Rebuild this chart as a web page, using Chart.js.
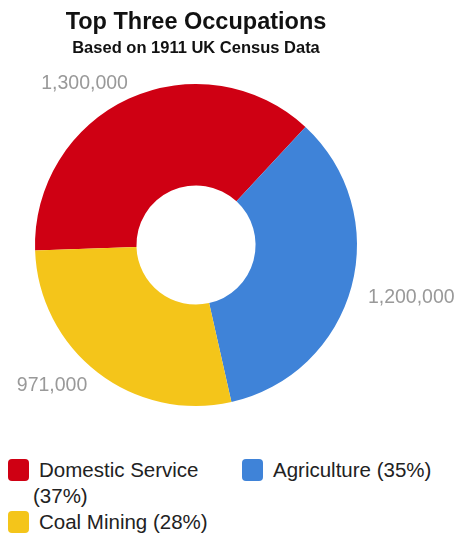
<!DOCTYPE html>
<html>
<head>
<meta charset="utf-8">
<script src="https://cdn.jsdelivr.net/npm/chart.js@4/dist/chart.umd.min.js"></script>
<style>
    body { margin: 0; background: #fff; font-family: "Liberation Sans", Arial, sans-serif; }
    #wrap { position: relative; width: 457px; height: 533px; overflow: hidden; }
    #myChart { position: absolute; left: 0; top: 0; }
    #legend { position: absolute; left: 0; top: 457px; width: 457px; font-size: 20.5px; color: #222; }
    .item { position: absolute; line-height: 26px; }
    .item .box { position: absolute; left: 0; top: 2px; width: 21px; height: 22px; border-radius: 4px; }
</style>
</head>
<body>
<div id="wrap">
    <canvas id="myChart" width="457" height="440"></canvas>
    <div id="legend"></div>
</div>
<script>
// Chart data
var occupations = ["Domestic Service", "Agriculture", "Coal Mining"];
var workers = [1300000, 1200000, 971000];
var colours = ["#cf0013", "#3f83d8", "#f4c51a"];

var total = workers.reduce((a, b) => a + b, 0);

// Draws the value next to each slice, outside the ring
const outsideLabels = {
    id: "outsideLabels",
    afterDatasetsDraw(chart) {
        const ctx = chart.ctx;
        const meta = chart.getDatasetMeta(0);
        ctx.save();
        ctx.font = "19.5px 'Liberation Sans', Arial, sans-serif";
        ctx.fillStyle = "#999999";
        ctx.textBaseline = "middle";
        meta.data.forEach((arc, i) => {
            const p = arc.getProps(["x", "y", "startAngle", "endAngle", "outerRadius"], true);
            const mid = (p.startAngle + p.endAngle) / 2;
            const r = p.outerRadius + 17;
            let x = p.x + Math.cos(mid) * r;
            let y = p.y + Math.sin(mid) * r;
            if (x > p.x) y += 6;
            if (y < p.y) x += 6;
            ctx.textAlign = x < p.x ? "right" : "left";
            ctx.fillText(workers[i].toLocaleString("en-US"), x, y);
        });
        ctx.restore();
    }
};

const config = {
    type: "doughnut",
    data: {
        labels: occupations,
        datasets: [{
            data: workers,
            backgroundColor: colours,
            borderWidth: 0
        }]
    },
    options: {
        responsive: false,
        animation: false,
        cutout: "37%",
        rotation: 268,
        layout: { padding: { left: 35, right: 100, top: 6, bottom: 34 } },
        plugins: {
            legend: { display: false },
            tooltip: { enabled: false },
            title: {
                display: true,
                text: "Top Three Occupations",
                color: "#111",
                font: { family: "'Liberation Sans', Arial, sans-serif", size: 23.5, weight: "bold", lineHeight: 1.2 },
                padding: { top: 2, bottom: 2 }
            },
            subtitle: {
                display: true,
                text: "Based on 1911 UK Census Data",
                color: "#111",
                font: { family: "'Liberation Sans', Arial, sans-serif", size: 16.5, weight: "bold", lineHeight: 1.2 },
                padding: { top: 0, bottom: 26 }
            }
        }
    },
    plugins: [outsideLabels]
};

var myChart = new Chart(document.getElementById("myChart"), config);

// HTML legend (wraps like the original)
const legendPos = [[8, 0, 232], [242, 0, 215], [8, 52, 232]];
const legend = document.getElementById("legend");
occupations.forEach((name, i) => {
    const pct = Math.round(workers[i] / total * 100);
    const item = document.createElement("div");
    item.className = "item";
    item.style.left = legendPos[i][0] + "px";
    item.style.top = legendPos[i][1] + "px";
    item.style.width = legendPos[i][2] + "px";
    item.innerHTML = '<span class="box" style="background:' + colours[i] + '"></span>' +
        '<div style="padding-left:25px;text-indent:6px">' + name + " (" + pct + "%)</div>";
    legend.appendChild(item);
});
</script>
</body>
</html>
